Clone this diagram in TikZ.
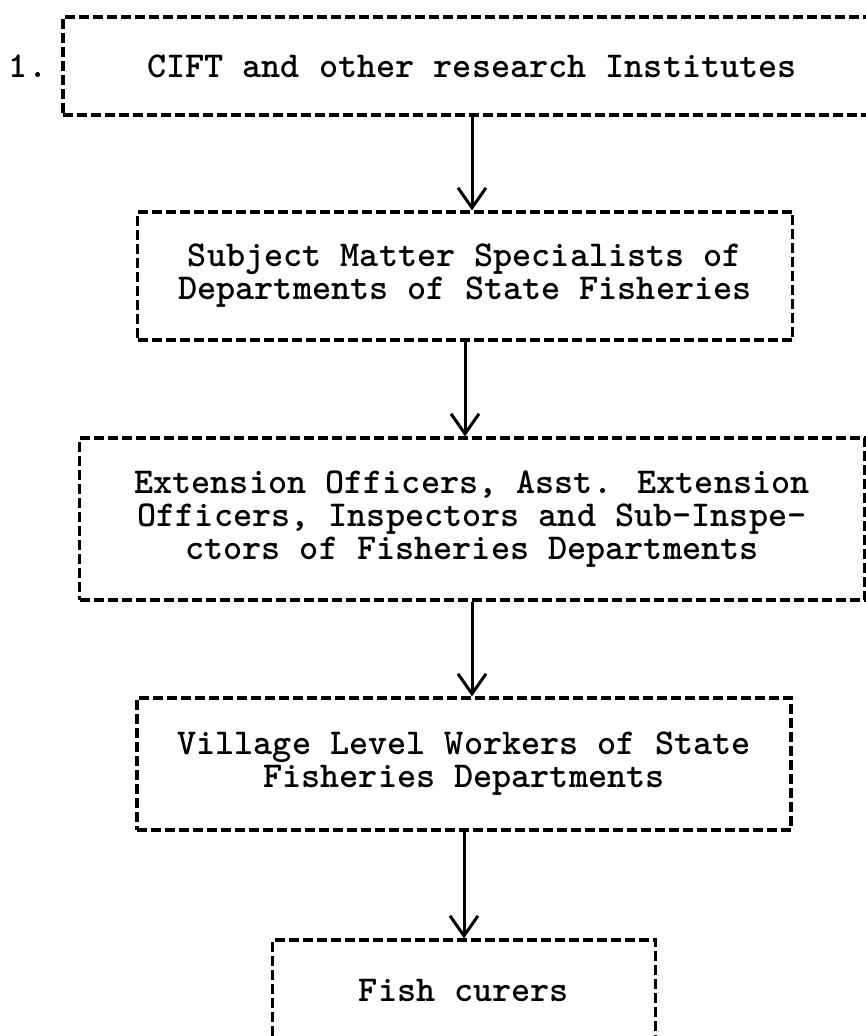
\documentclass[tikz,border=0pt]{standalone}
\usepackage{fontspec}
\usetikzlibrary{arrows.meta}

\begin{document}
\begin{tikzpicture}[x=1pt, y=-1pt, every node/.style={font=\ttfamily\bfseries\fontsize{36.4}{33}\selectfont}, box/.style={draw, dash pattern=on 10pt off 4pt, line width=3.2pt, align=center, inner sep=0pt}, arrow/.style={-{Straight Barb[length=20pt,width=28pt]}, line width=3pt}]
\useasboundingbox (0,0) rectangle (866,1036);
\clip (0,0) rectangle (866,1036);
\node (num) at (28,66) {1.};
\node[box, minimum width=818pt, minimum height=98pt] (inst) at (472,66) {CIFT and other research Institutes};
\node[box, minimum width=655pt, minimum height=128pt] (sms) at (465,276) {Subject Matter Specialists of\\Departments of State Fisheries};
\node[box, minimum width=785pt, minimum height=162pt] (ext) at (472,519) {Extension Officers, Asst. Extension\\Officers, Inspectors and Sub-Inspe-\\ctors of Fisheries Departments};
\node[box, minimum width=654pt, minimum height=132pt] (vlw) at (464,764) {Village Level Workers of State\\Fisheries Departments};
\node[box, minimum width=383pt, minimum height=100pt] (curers) at (464,990) {Fish curers};
\draw[arrow] (inst.south) -- (inst.south |- sms.north); \draw[arrow] (sms.south) -- (sms.south |- ext.north); \draw[arrow] (ext.south) -- (ext.south |- vlw.north); \draw[arrow] (vlw.south) -- (vlw.south |- curers.north);
\end{tikzpicture}
\end{document}
